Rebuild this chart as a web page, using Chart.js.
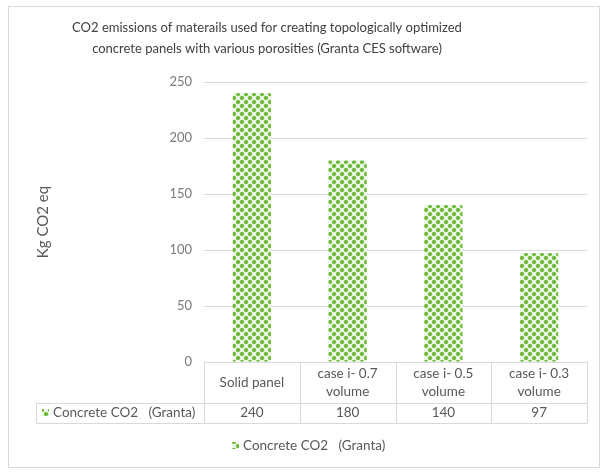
<!DOCTYPE html>
<html>
<head>
<meta charset="utf-8">
<script src="https://cdn.jsdelivr.net/npm/chart.js@4"></script>
<style>
  html, body { margin: 0; padding: 0; background: #fff; }
  #wrap { width: 608px; height: 473px; position: relative; }
</style>
</head>
<body>
<div id="wrap"><canvas id="co2Chart" width="608" height="473"></canvas></div>
<script>
const categories = [['Solid panel'], ['case i- 0.7', 'volume'], ['case i- 0.5', 'volume'], ['case i- 0.3', 'volume']];
const seriesLabel = 'Concrete CO2   (Granta)';
const co2Values = [240, 180, 140, 97];
const yTicks = [0, 50, 100, 150, 200, 250];
const chartTitle = [
  'CO2 emissions of materails used for creating topologically optimized',
  'concrete panels with various porosities (Granta CES software)',
];

const FONT = 'Lato, "Open Sans", sans-serif';
const TEXT_GREY = '#595959';
const TICK_GREY = '#7a7a7a';
const LINE_GREY = '#d9d9d9';

function makeDotPattern() {
  const tile = document.createElement('canvas');
  tile.width = 8;
  tile.height = 8;
  const t = tile.getContext('2d');
  t.fillStyle = '#eaf6e0';
  t.fillRect(0, 0, 8, 8);
  t.fillStyle = '#6cb83a';
  [[2, 2], [6, 6]].forEach(([cx, cy]) => {
    t.beginPath();
    t.arc(cx, cy, 2.1, 0, Math.PI * 2);
    t.fill();
  });
  return document.getElementById('co2Chart').getContext('2d').createPattern(tile, 'repeat');
}

const dotPattern = makeDotPattern();

// frame, title, data table and legend drawn around the plot area
const tablePlugin = {
  id: 'dataTable',
  beforeDraw(chart) {
    const { ctx } = chart;
    ctx.save();
    ctx.strokeStyle = LINE_GREY;
    ctx.lineWidth = 1;
    ctx.strokeRect(8.5, 6.5, 591, 461);
    ctx.fillStyle = '#404040';
    ctx.font = '13px ' + FONT;
    ctx.textAlign = 'center';
    ctx.textBaseline = 'middle';
    chartTitle.forEach((line, i) => ctx.fillText(line, 267, 28 + i * 21));
    ctx.restore();
  },
  afterDraw(chart) {
    const { ctx, chartArea } = chart;
    const x = chart.scales.x;
    const top = chartArea.bottom;
    const rowSplit = top + 41;
    const bottom = rowSplit + 20;
    const half = (x.getPixelForValue(1) - x.getPixelForValue(0)) / 2;
    const edges = categories.map((_, i) => x.getPixelForValue(i) - half);
    edges.push(x.getPixelForValue(categories.length - 1) + half);
    const labelLeft = 36;
    const right = Math.round(edges[edges.length - 1]) + 0.5;

    ctx.save();
    ctx.strokeStyle = LINE_GREY;
    ctx.lineWidth = 1;
    ctx.beginPath();
    ctx.moveTo(edges[0], top + 0.5);
    ctx.lineTo(right, top + 0.5);
    ctx.moveTo(labelLeft, rowSplit + 0.5);
    ctx.lineTo(right, rowSplit + 0.5);
    ctx.moveTo(labelLeft, bottom + 0.5);
    ctx.lineTo(right, bottom + 0.5);
    ctx.moveTo(labelLeft + 0.5, rowSplit);
    ctx.lineTo(labelLeft + 0.5, bottom);
    edges.forEach((ex) => {
      ctx.moveTo(Math.round(ex) + 0.5, top);
      ctx.lineTo(Math.round(ex) + 0.5, bottom);
    });
    ctx.stroke();

    ctx.fillStyle = TEXT_GREY;
    ctx.font = '13.5px ' + FONT;
    ctx.textAlign = 'center';
    ctx.textBaseline = 'middle';
    categories.forEach((lines, i) => {
      const cx = x.getPixelForValue(i);
      const mid = (top + rowSplit) / 2;
      lines.forEach((line, j) => {
        ctx.fillText(line, cx, mid + (j - (lines.length - 1) / 2) * 18);
      });
      ctx.fillText(String(co2Values[i]), cx, (rowSplit + bottom) / 2);
    });

    // row key + label
    ctx.fillStyle = dotPattern;
    ctx.fillRect(labelLeft + 6, rowSplit + 6, 7, 7);
    ctx.fillStyle = TEXT_GREY;
    ctx.textAlign = 'left';
    ctx.fillText(seriesLabel, labelLeft + 17, (rowSplit + bottom) / 2);

    // bottom legend
    const legendY = bottom + 23;
    ctx.fillStyle = dotPattern;
    ctx.fillRect(232, legendY - 4, 7, 7);
    ctx.fillStyle = TEXT_GREY;
    ctx.fillText(seriesLabel, 243, legendY);
    ctx.restore();
  },
};

new Chart(document.getElementById('co2Chart'), {
  type: 'bar',
  data: {
    labels: categories.map((c) => c.join(' ')),
    datasets: [{
      label: seriesLabel,
      data: co2Values,
      backgroundColor: dotPattern,
      borderWidth: 0,
      barPercentage: 0.4,
      categoryPercentage: 1,
    }],
  },
  options: {
    responsive: false,
    animation: false,
    devicePixelRatio: 1,
    layout: { padding: { left: 34, right: 21, top: 82, bottom: 111 } },
    plugins: {
      legend: { display: false },
      tooltip: { enabled: false },
      title: { display: false },
    },
    scales: {
      x: {
        display: false,
      },
      y: {
        min: 0,
        max: 250,
        afterFit(scale) { scale.width = 170; },
        afterBuildTicks(scale) { scale.ticks = yTicks.map((v) => ({ value: v })); },
        ticks: {
          color: TICK_GREY,
          padding: 12,
          font: { family: FONT, size: 13 },
        },
        grid: { color: LINE_GREY, drawTicks: false },
        border: { display: false },
        title: {
          display: true,
          text: 'Kg CO2 eq',
          color: TEXT_GREY,
          font: { family: FONT, size: 15 },
          padding: 0,
        },
      },
    },
  },
  plugins: [tablePlugin],
});
</script>
</body>
</html>
